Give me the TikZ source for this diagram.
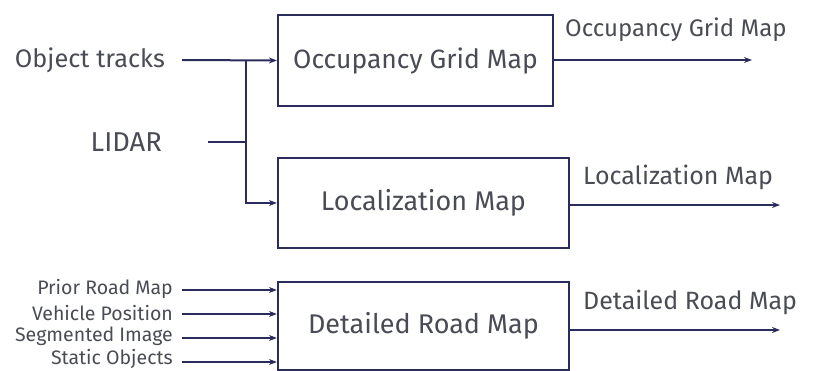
\documentclass[tikz,border=0pt]{standalone}
\usepackage{fontspec}
\setmainfont{Fira Sans}
\usetikzlibrary{arrows.meta}
\definecolor{linec}{HTML}{2A2C5C}
\definecolor{textc}{HTML}{4A4C55}
\tikzset{
  box/.style={draw=linec, line width=2.2pt, fill=white, text=textc, font=\fontsize{27}{31}\selectfont, inner sep=0pt},
  lbl/.style={text=textc, font=\fontsize{25}{29}\selectfont, inner sep=0pt},
  small/.style={text=textc, font=\fontsize{19.5}{22}\selectfont, inner sep=0pt, anchor=east},
  wire/.style={draw=linec, line width=2pt},
  arr/.style={wire, -{Stealth[length=8pt,width=6pt]}},
}
\begin{document}
\begin{tikzpicture}[x=1pt,y=-1pt]
\useasboundingbox (0,0) rectangle (825,371);
\clip (0,0) rectangle (825,371);
% boxes
\node[box, minimum width=275pt, minimum height=91pt, font=\fontsize{26.5}{30}\selectfont] (b1) at (415.5,60.5) {Occupancy Grid Map};
\node[box, minimum width=291pt, minimum height=90pt] (b2) at (423.5,203) {Localization Map};
\node[box, minimum width=291pt, minimum height=88pt] (b3) at (423.5,326) {Detailed Road Map};
% inputs top
\node[lbl, anchor=east, font=\fontsize{25.3}{29}\selectfont] (ot) at (165,60) {Object tracks};
\node[lbl, anchor=east, font=\fontsize{27.3}{31}\selectfont] (li) at (162,142) {LIDAR};
\coordinate (j1) at (246,60);
\coordinate (j2) at (246,142);
\coordinate (j3) at (246,203);
\draw[arr] ([xshift=17pt]ot.east) -- (b1.west);
\draw[wire] ([xshift=46pt]li.east) -- (j2);
\draw[arr] (j1) -- (j3) -- (b2.west);
% inputs bottom
\node[small] (s1) at (173,289) {Prior Road Map};
\node[small] (s2) at (173,313) {Vehicle Position};
\node[small] (s3) at (173,336) {Segmented Image};
\node[small] (s4) at (173,358.5) {Static Objects};
\foreach \s/\yy in {s1/290,s2/314,s3/338,s4/362}{
  \draw[arr] ([xshift=9pt]\s.east |- 0,\yy) -- (b3.west |- 0,\yy);
}
% outputs
\coordinate (o1) at (752,60);
\coordinate (o2) at (780,205);
\coordinate (o3) at (780,330);
\draw[arr] (b1.east |- o1) -- (o1);
\draw[arr] (b2.east |- o2) -- (o2);
\draw[arr] (b3.east |- o3) -- (o3);
\node[lbl, anchor=west, font=\fontsize{24}{28}\selectfont] (l1) at (565,30) {Occupancy Grid Map};
\node[lbl, anchor=west] (l2) at (583,177) {Localization Map};
\node[lbl, anchor=west] (l3) at (583,302) {Detailed Road Map};
\end{tikzpicture}
\end{document}
